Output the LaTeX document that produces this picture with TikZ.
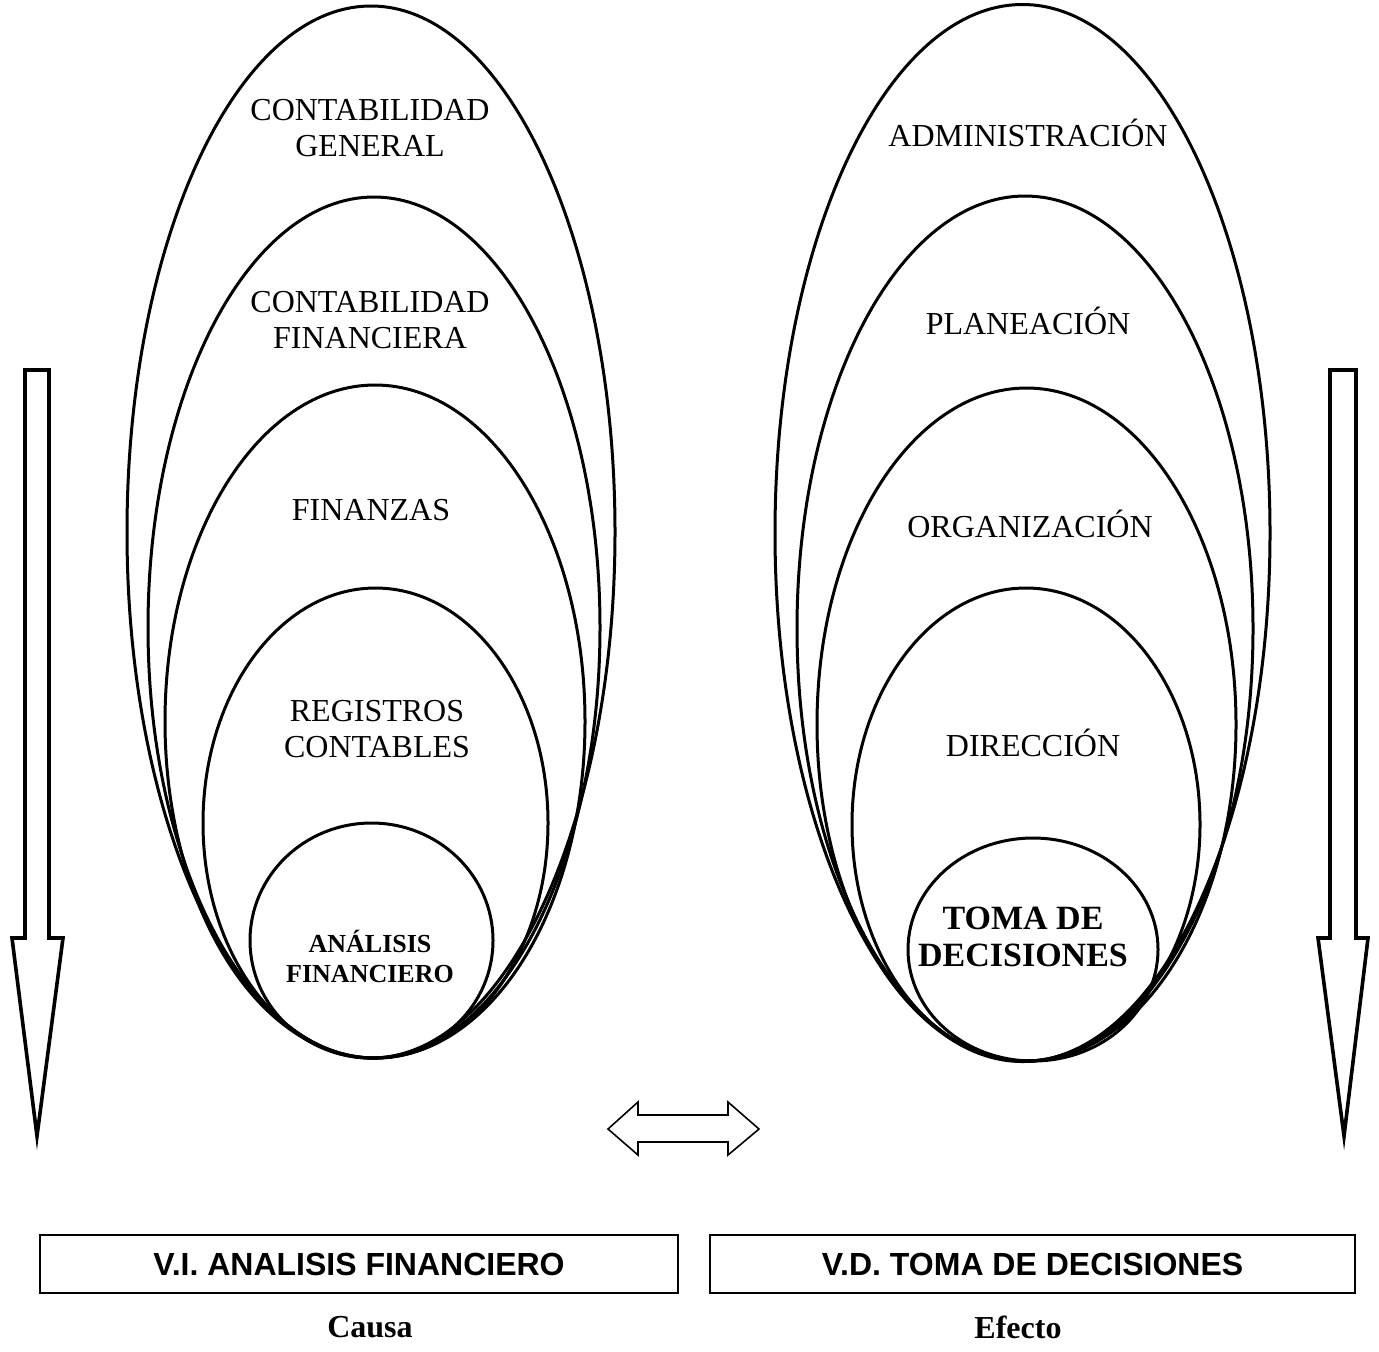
\documentclass[tikz,border=0pt]{standalone}
\usepackage{fontspec}
\setmainfont{Liberation Serif}
\setsansfont{Liberation Sans}
\begin{document}
\begin{tikzpicture}[x=0.5pt,y=-0.5pt,
  ell/.style={line width=1.5pt},
  lbl/.style={align=center,font=\fontsize{16}{18}\selectfont,inner sep=0pt},
  blbl/.style={align=center,font=\fontsize{13}{15}\selectfont\bfseries,inner sep=0pt},
  blbltwo/.style={align=center,font=\fontsize{17}{18.5}\selectfont\bfseries,inner sep=0pt},
  bigarrow/.style={line width=1.8pt,line join=miter,fill=white},
  dblarrow/.style={line width=0.8pt,line join=miter,fill=white},
  vbox/.style={draw,line width=0.9pt,minimum height=29pt,inner sep=0pt,
    font=\fontsize{16}{18}\selectfont\sffamily\bfseries},
  foot/.style={font=\fontsize{16}{18}\selectfont\bfseries,inner sep=0pt}]
\useasboundingbox (0,0) rectangle (1379,1351);
% left ellipses
\draw[ell] (371,532) ellipse [x radius=244, y radius=526];
\draw[ell] (374,627.5) ellipse [x radius=226, y radius=430.5];
\draw[ell] (375,721.5) ellipse [x radius=210, y radius=336.5];
\draw[ell] (375.5,823) ellipse [x radius=172.5, y radius=235];
\draw[ell] (371.5,940.5) ellipse [x radius=121.5, y radius=117.5];
% right ellipses
\draw[ell] (1022.5,533) ellipse [x radius=247.5, y radius=528.5];
\draw[ell] (1025,628.5) ellipse [x radius=228, y radius=432.5];
\draw[ell] (1026.5,724.5) ellipse [x radius=209.5, y radius=336.5];
\draw[ell] (1026,824.5) ellipse [x radius=174, y radius=236.5];
\draw[ell] (1033,949.5) ellipse [x radius=125, y radius=111.5];
% left labels
\node[lbl] (cg) at (370,128) {CONTABILIDAD\\GENERAL};
\node[lbl] (cf) at (370,320) {CONTABILIDAD\\FINANCIERA};
\node[lbl] (fi) at (371,510) {FINANZAS};
\node[lbl] (rc) at (377,729) {REGISTROS\\CONTABLES};
\node[blbl] (af) at (370,956) {ANÁLISIS\\FINANCIERO};
% right labels
\node[lbl] (ad) at (1028,133) {ADMINISTRACIÓN};
\node[lbl] (pl) at (1028,321) {PLANEACIÓN};
\node[lbl] (or) at (1030,524) {ORGANIZACIÓN};
\node[lbl] (di) at (1033,743) {DIRECCIÓN};
\node[blbltwo] (td) at (1023,937) {TOMA DE\\DECISIONES};
% vertical arrows
\draw[bigarrow] (25,370) -- (49,370) -- (49,938) -- (63,938) -- (37,1136) -- (12,938) -- (25,938) -- cycle;
\draw[bigarrow] (1330,370) -- (1356,370) -- (1356,938) -- (1368,938) -- (1344,1136) -- (1318,938) -- (1330,938) -- cycle;
% double arrow
\draw[dblarrow] (608,1129) -- (638,1102) -- (638,1115) -- (728,1115) -- (728,1102) -- (759,1129)
  -- (728,1155) -- (728,1142) -- (638,1142) -- (638,1155) -- cycle;
% boxes
\node[vbox,minimum width=319pt] (vi) at (359,1264) {V.I. ANALISIS FINANCIERO};
\node[vbox,minimum width=322.5pt] (vd) at (1032.5,1264) {V.D. TOMA DE DECISIONES};
\node[foot] (ca) at (370,1327) {Causa};
\node[foot] (ef) at (1018,1327) {Efecto};
\end{tikzpicture}
\end{document}
